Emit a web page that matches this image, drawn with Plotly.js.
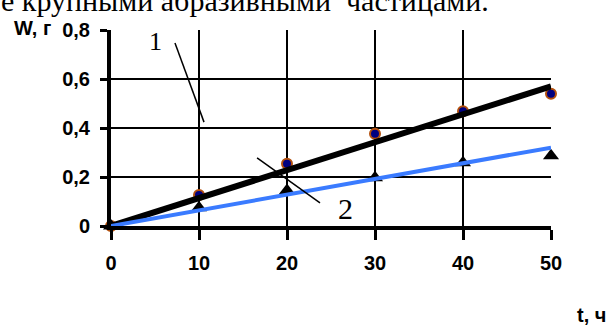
<!DOCTYPE html>
<html>
<head>
<meta charset="utf-8">
<script src="https://cdn.plot.ly/plotly-3.0.1.min.js"></script>
<style>
  html, body { margin: 0; padding: 0; background: #fff; }
  #chart { width: 611px; height: 325px; }
</style>
</head>
<body>
<div id="chart"></div>
<script>
// Wear mass W (g) against test time t (h)
const timeHours = [0, 10, 20, 30, 40, 50];
const wear1 = [0, 0.127, 0.254, 0.377, 0.468, 0.54];   // curve 1, measured
const wear2 = [0, 0.074, 0.145, 0.197, 0.258, 0.287];  // curve 2, measured

// Straight-line trends through the origin
const trendT = [0, 50];
const trend1 = [0, 0.57];
const trend2 = [0, 0.32];

const xTicks = [0, 10, 20, 30, 40, 50];
const yTicks = [0, 0.2, 0.4, 0.6, 0.8];
const yTickText = ['0', '0,2', '0,4', '0,6', '0,8'];

const tickFont = { family: '"Liberation Sans", Arial, sans-serif', size: 20, color: '#000', weight: 'bold' };
const serif = '"Liberation Serif", "Times New Roman", serif';

const traces = [
  {
    x: timeHours, y: wear1, type: 'scatter', mode: 'markers', cliponaxis: false,
    marker: { symbol: 'circle', size: 10, color: '#000080', line: { color: '#b4500c', width: 2 } },
    hoverinfo: 'skip'
  },
  {
    x: timeHours, y: wear2, type: 'scatter', mode: 'markers', cliponaxis: false,
    marker: { symbol: 'triangle-up', size: 14, color: '#000' },
    hoverinfo: 'skip'
  },
  {
    x: trendT, y: trend1, type: 'scatter', mode: 'lines', cliponaxis: false,
    line: { color: '#000', width: 6 }, hoverinfo: 'skip'
  },
  {
    x: trendT, y: trend2, type: 'scatter', mode: 'lines', cliponaxis: false,
    line: { color: '#3a7bff', width: 4 }, hoverinfo: 'skip'
  }
];

const layout = {
  width: 611, height: 325,
  margin: { l: 111, r: 60, t: 30, b: 99 },
  paper_bgcolor: '#fff', plot_bgcolor: '#fff',
  showlegend: false,
  font: { family: tickFont.family, color: '#000' },
  xaxis: {
    range: [0, 50], tickvals: xTicks, ticktext: xTicks.map(String),
    showgrid: true, gridcolor: '#000', gridwidth: 2,
    zeroline: false, showline: true, linecolor: '#000', linewidth: 4,
    ticks: 'outside', ticklen: 10, tickwidth: 3, tickcolor: '#000',
    ticklabelstandoff: 6, tickfont: tickFont, fixedrange: true
  },
  xaxis2: {
    overlaying: 'x', anchor: 'y', side: 'bottom', range: [0, 50], tickvals: xTicks,
    showgrid: false, zeroline: false, showline: false, showticklabels: false,
    ticks: 'inside', ticklen: 9, tickwidth: 3, tickcolor: '#000', fixedrange: true
  },
  yaxis: {
    range: [0, 0.8], tickvals: yTicks, ticktext: yTickText,
    showgrid: true, gridcolor: '#000', gridwidth: 2,
    zeroline: false, showline: true, linecolor: '#000', linewidth: 4,
    ticks: 'outside', ticklen: 7, tickwidth: 3, tickcolor: '#000',
    ticklabelstandoff: 6, tickfont: tickFont, fixedrange: true
  },
  yaxis2: {
    overlaying: 'y', anchor: 'x', side: 'left', range: [0, 0.8], tickvals: yTicks,
    showgrid: false, zeroline: false, showline: false, showticklabels: false,
    ticks: 'inside', ticklen: 6, tickwidth: 3, tickcolor: '#000', fixedrange: true
  },
  shapes: [
    // leader line for curve 1
    { type: 'line', xref: 'x', yref: 'y', x0: 7.27, y0: 0.747, x1: 10.57, y1: 0.424, line: { color: '#000', width: 1.5 } },
    // leader line for curve 2
    { type: 'line', xref: 'x', yref: 'y', x0: 16.6, y0: 0.278, x1: 23.75, y1: 0.094, line: { color: '#000', width: 1.5 } }
  ],
  annotations: [
    { text: 'е крупными абразивными  частицами.', xref: 'paper', yref: 'paper', x: -0.255, y: 1.15,
      xanchor: 'left', yanchor: 'middle', showarrow: false, font: { family: serif, size: 30, color: '#000' } },
    { text: 'W, г', xref: 'paper', yref: 'paper', x: -0.225, y: 1.01, xanchor: 'left', yanchor: 'middle',
      showarrow: false, font: { family: '"Liberation Sans", Arial, sans-serif', size: 20, color: '#000', weight: 'bold' } },
    { text: 't, ч', xref: 'paper', yref: 'paper', x: 1.13, y: -0.454, xanchor: 'right', yanchor: 'middle',
      showarrow: false, font: { family: '"Liberation Sans", Arial, sans-serif', size: 20, color: '#000', weight: 'bold' } },
    { text: '1', xref: 'x', yref: 'y', x: 5.0, y: 0.755, showarrow: false,
      font: { family: serif, size: 26, color: '#000' } },
    { text: '2', xref: 'x', yref: 'y', x: 26.7, y: 0.073, showarrow: false,
      font: { family: serif, size: 30, color: '#000' } }
  ]
};

Plotly.newPlot('chart', traces, layout, { displayModeBar: false, staticPlot: true });
</script>
</body>
</html>
